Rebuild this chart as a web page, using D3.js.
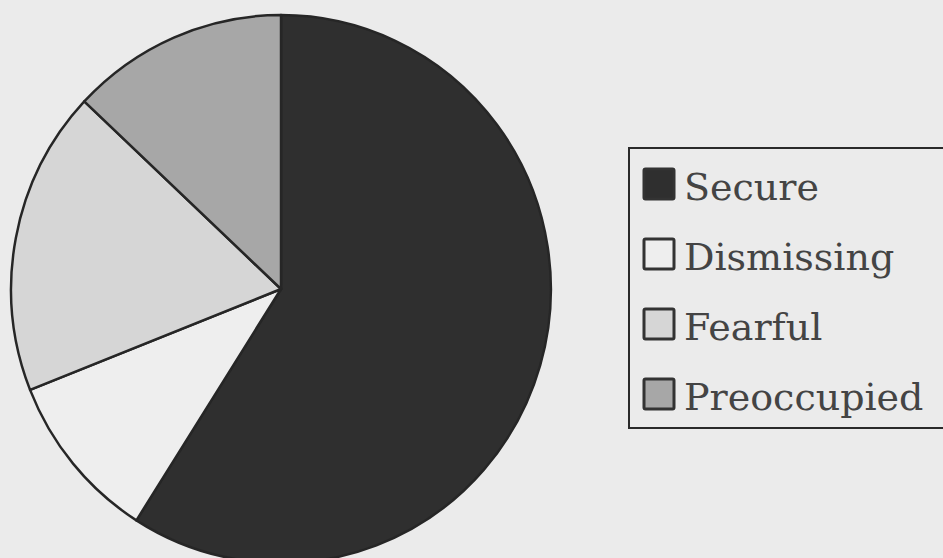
<!DOCTYPE html>
<html>
<head>
<meta charset="utf-8">
<script src="https://cdn.jsdelivr.net/npm/d3@7"></script>
<style>
  body { margin: 0; background: #ebebeb; }
  svg { display: block; }
</style>
</head>
<body>
<svg id="chart" width="943" height="558"></svg>
<script>
// attachment styles and their shares
var categories = ["Secure", "Dismissing", "Fearful", "Preoccupied"];
var shares = [59, 10, 18, 13];
var fills = ["#2f2f2f", "#eeeeee", "#d6d6d6", "#a7a7a7"];

var svg = d3.select("#chart");
var W = 943, H = 558;

svg.append("rect")
  .attr("width", W)
  .attr("height", H)
  .attr("fill", "#ebebeb");

var color = d3.scaleOrdinal().domain(categories).range(fills);

// pie (scan is slightly taller than wide)
var r = 274;
var pieG = svg.append("g")
  .attr("transform", "translate(281,289) scale(0.985,1)");

var pie = d3.pie().sort(null).value(function(d){ return d.v; });
var arc = d3.arc().innerRadius(0).outerRadius(r);

var data = categories.map(function(c, i){ return {name: c, v: shares[i]}; });

pieG.selectAll("path.slice").data(pie(data))
  .enter()
  .append("path")
    .attr("class", "slice")
    .attr("d", arc)
    .attr("fill", function(d){ return color(d.data.name); })
    .style("stroke", "#262626")
    .style("stroke-width", 2.5)
    .style("stroke-linejoin", "round");

// legend
var legend = svg.append("g");
legend.append("rect")
  .attr("x", 629)
  .attr("y", 148)
  .attr("width", 400)
  .attr("height", 280)
  .style("fill", "none")
  .style("stroke", "#2a2a2a")
  .style("stroke-width", 2);

var ly = d3.scalePoint().domain(categories).range([200, 410]);

var items = legend.selectAll(".item").data(categories)
  .enter()
  .append("g")
    .attr("class", "item")
    .attr("transform", function(d){ return "translate(0," + ly(d) + ")"; });

items.append("rect")
  .attr("x", 644)
  .attr("y", -31)
  .attr("width", 30)
  .attr("height", 30)
  .attr("rx", 1.5)
  .attr("fill", function(d){ return color(d); })
  .style("stroke", "#333333")
  .style("stroke-width", 3);

items.append("text")
  .attr("x", 684)
  .attr("y", 0)
  .text(function(d){ return d; })
  .attr("fill", "#444444")
  .style("font-family", "'DejaVu Serif', serif")
  .style("font-size", "38px");
</script>
</body>
</html>
